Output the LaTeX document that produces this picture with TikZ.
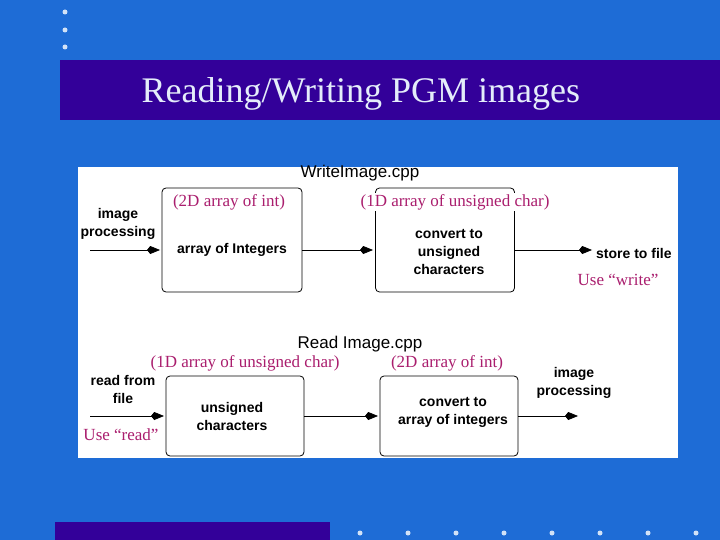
\documentclass[tikz,border=0pt]{standalone}
\usepackage{fontspec}
\setmainfont{Liberation Serif}
\newfontfamily\hv{Liberation Sans}
\usetikzlibrary{arrows.meta}
\definecolor{bgblue}{RGB}{30,108,214}
\definecolor{band}{RGB}{51,0,153}
\definecolor{mag}{RGB}{170,30,110}
\tikzset{
 blk/.style={draw,thick,rounded corners=4pt},
 lbl/.style={font=\hv\bfseries\fontsize{14}{18}\selectfont,align=center,inner sep=1pt},
 mg/.style={text=mag,fill=white,inner sep=1pt,font=\fontsize{17}{19}\selectfont},
 con/.style={-{Kite[length=13pt,width=8pt]},line width=0.8pt},
 dot/.style={circle,fill=white!80!bgblue,inner sep=0pt,minimum size=5pt}
}
\begin{document}
\begin{tikzpicture}[x=1pt,y=-1pt]
\fill[bgblue] (0,0) rectangle (720,540);
\useasboundingbox (0,0) rectangle (720,540);
\foreach \y [count=\i] in {12,30,47} \node[dot] (d\i) at (65,\y) {};
\fill[band] (60,60) rectangle (720,120);
\node[text=white!88!bgblue,font=\fontsize{36}{40}\selectfont,anchor=west] (title) at (138,94) {Reading/Writing PGM images};
\fill[band] (55,522) rectangle (330,540);
\foreach \x [count=\i] in {360,408,456,504,552,600,648,696} \node[dot] (b\i) at (\x,533) {};
\fill[white] (78,167) rectangle (678,458);
% top
\node[font=\hv\fontsize{17}{18}\selectfont,inner sep=0pt] (wt) at (360,173) {WriteImage.cpp};
\node[blk,minimum width=140pt,minimum height=104pt] (a1) at (232,240) {};
\node[blk,minimum width=139pt,minimum height=104pt] (a2) at (445,240) {};
\node[lbl] at (232,250) {array of Integers};
\node[lbl] at (449,252) {convert to\\unsigned\\characters};
\node[mg] (m1) at (229,202) {(2D array of int)};
\node[mg] (m2) at (455,202) {(1D array of unsigned char)};
\node[lbl] (ip) at (118,224) {image\\processing};
\node[lbl,anchor=west] (sf) at (595,253) {store to file};
\node[mg] (uw) at (618,280) {Use “write”};
\coordinate (s1) at (90,250);
\coordinate (e1) at (160,250);
\coordinate (e2) at (373,250);
\coordinate (e3) at (592,250);
\draw[con] (s1) -- (e1);
\draw[con] (a1.east |- e1) -- (e2);
\draw[con] (a2.east |- e1) -- (e3);
% bottom
\node[font=\hv\fontsize{17}{18}\selectfont,inner sep=0pt] (rd) at (360,344) {Read Image.cpp};
\node[blk,minimum width=138pt,minimum height=80pt] (c1) at (235,416) {};
\node[blk,minimum width=138pt,minimum height=80pt] (c2) at (449,416) {};
\node[lbl] at (232,416) {unsigned\\characters};
\node[lbl] at (453,412) {convert to\\array of integers};
\node[mg] (m3) at (245,363) {(1D array of unsigned char)};
\node[mg] (m4) at (447,363) {(2D array of int)};
\node[lbl] (rf) at (123,389) {read from\\file};
\node[lbl] (ip2) at (574,383) {image\\processing};
\node[mg] (ur) at (121,435) {Use “read”};
\coordinate (t1) at (90,416);
\coordinate (f1) at (164,416);
\coordinate (f2) at (378,416);
\coordinate (f3) at (578,416);
\draw[con] (t1) -- (f1);
\draw[con] (c1.east |- t1) -- (f2);
\draw[con] (c2.east |- t1) -- (f3);
\end{tikzpicture}
\end{document}
